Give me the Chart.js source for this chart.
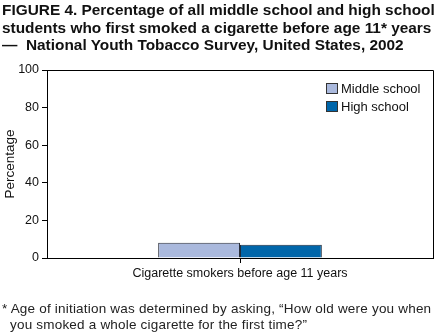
<!DOCTYPE html>
<html>
<head>
<meta charset="utf-8">
<script src="https://cdn.jsdelivr.net/npm/chart.js@4.4.1/dist/chart.umd.min.js"></script>
<style>
  html, body { margin: 0; padding: 0; background: #fff; }
  #wrap { position: relative; width: 440px; height: 336px; overflow: hidden; font-family: "Liberation Sans", Arial, sans-serif; color: #111; }
  #chart { position: absolute; left: 0; top: 0; }
  #title { position: absolute; left: 2px; top: 1px; width: 438px; font-weight: bold; font-size: 15.4px; line-height: 17.7px; white-space: nowrap; }
  #note { position: absolute; left: 2px; top: 301px; font-size: 13.5px; letter-spacing: 0.2px; line-height: 16px; white-space: nowrap; color: #222; }
  #note .ind { padding-left: 8px; }
  #legend { position: absolute; left: 326px; top: 79px; font-size: 13px; }
  #legend .row { display: flex; align-items: center; height: 18px; }
  #legend .sw { width: 12px; height: 11px; border: 1px solid #333; box-sizing: border-box; margin-right: 3px; }
</style>
</head>
<body>
<div id="wrap">
  <canvas id="chart" width="440" height="336"></canvas>
  <div id="title">FIGURE 4. Percentage of all middle school and high school<br>students who first smoked a cigarette before age 11* years<br>—&nbsp; National Youth Tobacco Survey, United States, 2002</div>
  <div id="legend"></div>
  <div id="note">* Age of initiation was determined by asking, “How old were you when<br><span class="ind">you smoked a whole cigarette for the first time?”</span></div>
</div>
<script>
// Survey results
const categories = ['Cigarette smokers before age 11 years'];
const seriesNames = ['Middle school', 'High school'];
const middleSchool = [8.1];
const highSchool = [7.1];
const yTicks = [0, 20, 40, 60, 80, 100];

const colors = ['#aab9dd', '#0066aa'];
const FONT = '"Liberation Sans", Arial, sans-serif';

// Legend rows built from the series names
const legendEl = document.getElementById('legend');
seriesNames.forEach((name, i) => {
  const row = document.createElement('div');
  row.className = 'row';
  const sw = document.createElement('span');
  sw.className = 'sw';
  sw.style.background = colors[i];
  const label = document.createElement('span');
  label.textContent = name;
  row.appendChild(sw);
  row.appendChild(label);
  legendEl.appendChild(row);
});

// Closes the plot frame on the top and right sides
const frame = {
  id: 'frame',
  afterDraw(chart) {
    const { ctx, chartArea: a } = chart;
    ctx.save();
    ctx.strokeStyle = '#000';
    ctx.lineWidth = 1;
    const l = Math.round(a.left) + 0.5, t = Math.round(a.top) + 0.5;
    const r = Math.round(a.right) + 0.5, b = Math.round(a.bottom) + 0.5;
    ctx.beginPath();
    ctx.moveTo(l, t);
    ctx.lineTo(r, t);
    ctx.lineTo(r, b);
    ctx.stroke();
    ctx.restore();
  }
};

new Chart(document.getElementById('chart'), {
  type: 'bar',
  data: {
    labels: categories,
    datasets: [
      { label: seriesNames[0], data: middleSchool, backgroundColor: colors[0], borderColor: '#2a2f3a', borderWidth: 1 },
      { label: seriesNames[1], data: highSchool, backgroundColor: colors[1], borderColor: '#1e2a3a', borderWidth: 1 }
    ]
  },
  options: {
    responsive: false,
    devicePixelRatio: 1,
    animation: false,
    layout: { padding: { left: 0, top: 70, right: 7, bottom: 0 } },
    datasets: { bar: { categoryPercentage: 0.424, barPercentage: 1.0 } },
    plugins: { legend: { display: false }, tooltip: { enabled: false } },
    scales: {
      x: {
        grid: { offset: false, drawOnChartArea: false, tickLength: 5, color: '#000' },
        border: { color: '#000', width: 1 },
        ticks: { color: '#111', font: { family: FONT, size: 12.5 }, padding: 3, maxRotation: 0 },
        afterFit(scale) { scale.height = 78; }
      },
      y: {
        min: 0,
        max: 100,
        afterBuildTicks(scale) { scale.ticks = yTicks.map(v => ({ value: v })); },
        grid: { drawOnChartArea: false, tickLength: 5, color: '#000' },
        border: { color: '#000', width: 1 },
        ticks: { color: '#111', font: { family: FONT, size: 12.5 }, padding: 3 },
        title: { display: true, text: 'Percentage', color: '#111', font: { family: FONT, size: 13.5 }, padding: { top: 2, bottom: 0 } },
        afterFit(scale) { scale.width = 47; }
      }
    }
  },
  plugins: [frame]
});
</script>
</body>
</html>
